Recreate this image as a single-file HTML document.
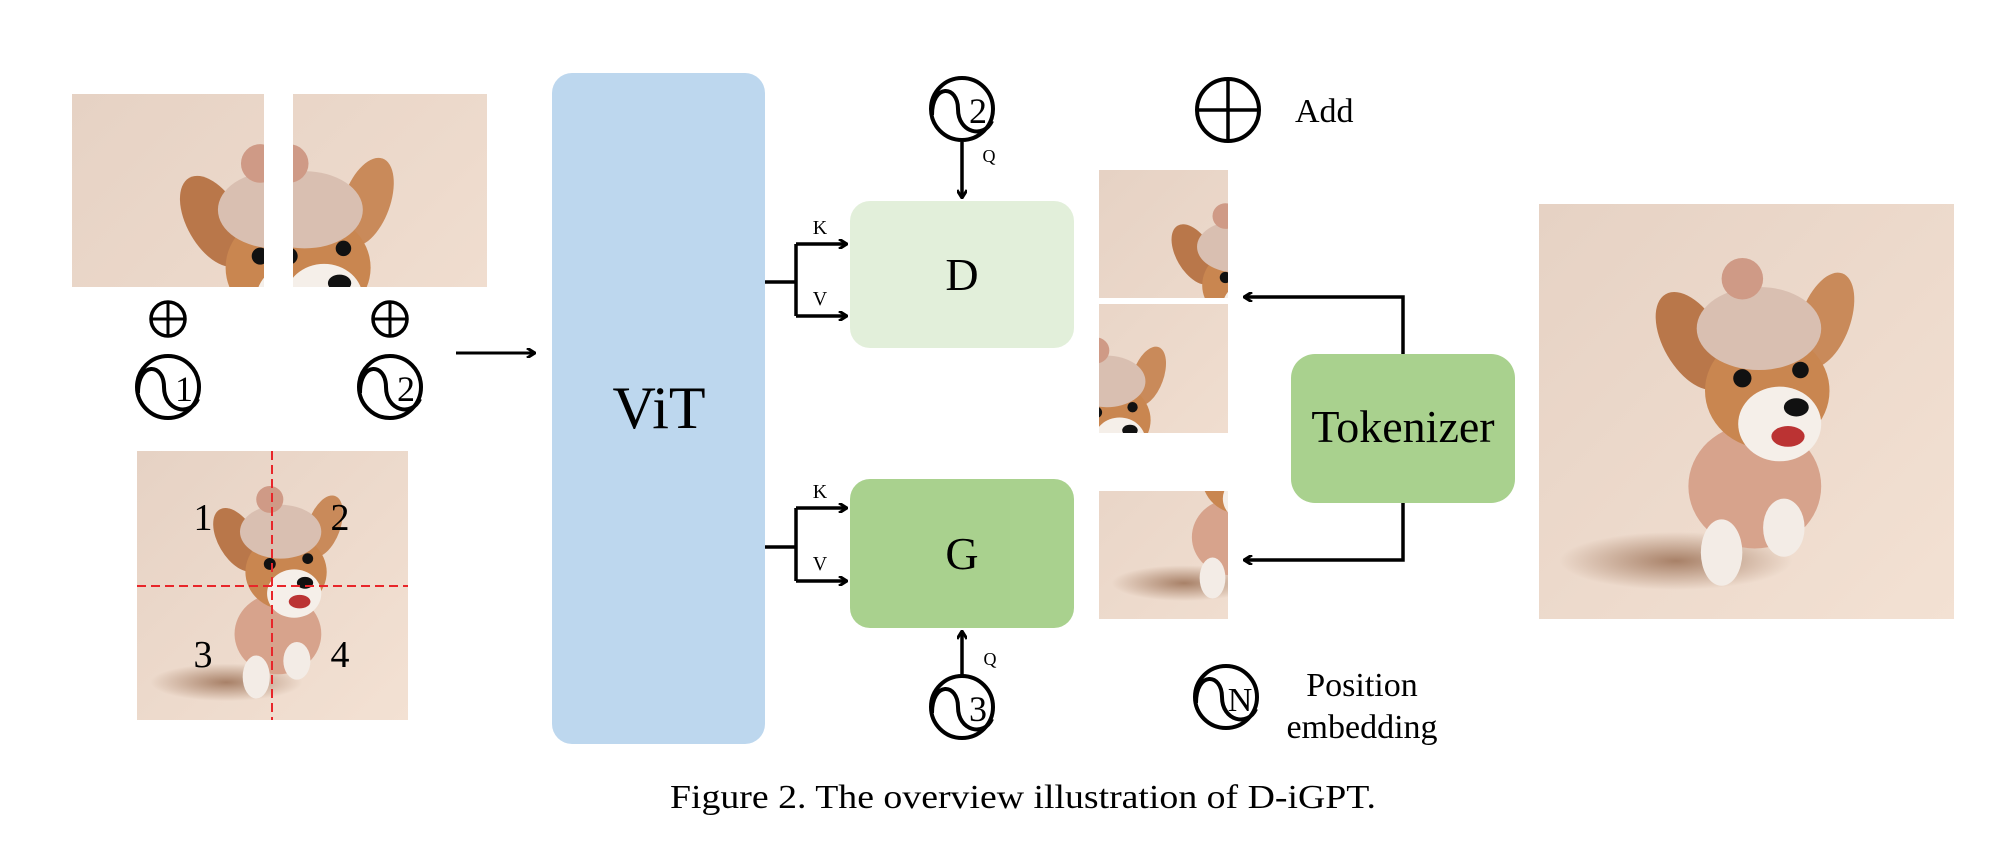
<!DOCTYPE html>
<html><head><meta charset="utf-8"><style>
html,body{margin:0;padding:0;background:#fff;}
svg{display:block;}
text{font-family:"Liberation Serif",serif;fill:#000;}
</style></head><body>
<svg width="2000" height="851" viewBox="0 0 2000 851" xmlns="http://www.w3.org/2000/svg">
<defs>
<linearGradient id="bg" x1="0" y1="0" x2="1" y2="1">
<stop offset="0" stop-color="#e6d2c4"/><stop offset="1" stop-color="#f3e1d3"/>
</linearGradient>
<radialGradient id="sh" cx="0.5" cy="0.5" r="0.5">
<stop offset="0" stop-color="#8a5a3c" stop-opacity="0.7"/><stop offset="1" stop-color="#8a5a3c" stop-opacity="0"/>
</radialGradient>
<g id="dog">
<rect x="0" y="0" width="100" height="100" fill="url(#bg)"/>
<ellipse cx="33" cy="86" rx="28" ry="7" fill="url(#sh)"/>
<ellipse cx="37" cy="33" rx="7" ry="13" fill="#b9774a" transform="rotate(-30 37 33)"/>
<ellipse cx="69" cy="28" rx="6" ry="12" fill="#c98a5a" transform="rotate(20 69 28)"/>
<ellipse cx="52" cy="68" rx="16" ry="15" fill="#d7a38c"/>
<ellipse cx="44" cy="84" rx="5" ry="8" fill="#f3ece6"/>
<ellipse cx="59" cy="78" rx="5" ry="7" fill="#f3ece6"/>
<ellipse cx="55" cy="45" rx="15" ry="14" fill="#c98650"/>
<ellipse cx="58" cy="53" rx="10" ry="9" fill="#f5efe9"/>
<ellipse cx="53" cy="30" rx="15" ry="10" fill="#d9bfb1"/>
<circle cx="49" cy="18" r="5" fill="#cf9a86"/>
<circle cx="49" cy="42" r="2.2" fill="#111"/>
<circle cx="63" cy="40" r="2" fill="#111"/>
<ellipse cx="62" cy="49" rx="3" ry="2.2" fill="#111"/>
<ellipse cx="60" cy="56" rx="4" ry="2.5" fill="#b33"/>
</g>
<g id="pe">
<circle cx="0" cy="0" r="31" fill="#fff" stroke="#000" stroke-width="4"/>
<path d="M-30,6 C-30,-26 -4,-24 -4,0 C-4,24 22,30 30,12" fill="none" stroke="#000" stroke-width="4"/>
</g>
<g id="add">
<circle cx="0" cy="0" r="17" fill="none" stroke="#000" stroke-width="3.5"/>
<line x1="-17" y1="0" x2="17" y2="0" stroke="#000" stroke-width="3"/>
<line x1="0" y1="-17" x2="0" y2="17" stroke="#000" stroke-width="3"/>
</g>
<marker id="ah" markerWidth="10" markerHeight="10" refX="8" refY="5" orient="auto" markerUnits="userSpaceOnUse">
<path d="M1,0 L9,5 L1,10" fill="none" stroke="#000" stroke-width="3"/>
</marker>
</defs>

<!-- top patches -->
<svg x="72" y="94" width="192" height="193" viewBox="0 0 50 50" preserveAspectRatio="none"><use href="#dog"/></svg>
<svg x="293" y="94" width="194" height="193" viewBox="50 0 50 50" preserveAspectRatio="none"><use href="#dog"/></svg>

<use href="#add" x="168" y="319"/>
<use href="#add" x="390" y="319"/>
<use href="#pe" x="168" y="387"/><text x="184" y="401" font-size="36" text-anchor="middle">1</text>
<use href="#pe" x="390" y="387"/><text x="406" y="401" font-size="36" text-anchor="middle">2</text>

<!-- grid image -->
<svg x="137" y="451" width="271" height="269" viewBox="0 0 100 100" preserveAspectRatio="none"><use href="#dog"/></svg>
<line x1="272" y1="451" x2="272" y2="720" stroke="#e8262a" stroke-width="2" stroke-dasharray="9,5"/>
<line x1="137" y1="586" x2="408" y2="586" stroke="#e8262a" stroke-width="2" stroke-dasharray="9,5"/>
<text x="203" y="530" font-size="38" text-anchor="middle">1</text>
<text x="340" y="530" font-size="38" text-anchor="middle">2</text>
<text x="203" y="667" font-size="38" text-anchor="middle">3</text>
<text x="340" y="667" font-size="38" text-anchor="middle">4</text>

<line x1="456" y1="353" x2="534" y2="353" stroke="#000" stroke-width="3" marker-end="url(#ah)"/>

<!-- ViT -->
<rect x="552" y="73" width="213" height="671" rx="20" fill="#bdd7ee"/>
<text x="659" y="428" font-size="60" text-anchor="middle">ViT</text>

<!-- D / G -->
<rect x="850" y="201" width="224" height="147" rx="20" fill="#e2efda"/>
<text x="962" y="290" font-size="46" text-anchor="middle">D</text>
<rect x="850" y="479" width="224" height="149" rx="20" fill="#a9d18e"/>
<text x="962" y="569" font-size="46" text-anchor="middle">G</text>

<!-- K/V connectors -->
<g stroke="#000" stroke-width="3.5" fill="none">
<path d="M765,282 H796 M796,244 V316"/>
<path d="M796,244 H846" marker-end="url(#ah)"/>
<path d="M796,316 H846" marker-end="url(#ah)"/>
<path d="M765,547 H796 M796,508 V581"/>
<path d="M796,508 H846" marker-end="url(#ah)"/>
<path d="M796,581 H846" marker-end="url(#ah)"/>
<path d="M962,142 V197" marker-end="url(#ah)"/>
<path d="M962,676 V632" marker-end="url(#ah)"/>
</g>
<text x="820" y="234" font-size="20" text-anchor="middle">K</text>
<text x="820" y="305" font-size="20" text-anchor="middle">V</text>
<text x="820" y="498" font-size="20" text-anchor="middle">K</text>
<text x="820" y="570" font-size="20" text-anchor="middle">V</text>
<text x="989" y="162" font-size="18" text-anchor="middle">Q</text>
<text x="990" y="665" font-size="18" text-anchor="middle">Q</text>
<use href="#pe" x="962" y="109"/><text x="978" y="123" font-size="36" text-anchor="middle">2</text>
<use href="#pe" x="962" y="707"/><text x="978" y="721" font-size="36" text-anchor="middle">3</text>

<!-- legend -->
<g transform="translate(1228,110)">
<circle r="31" fill="none" stroke="#000" stroke-width="4"/>
<line x1="-31" y1="0" x2="31" y2="0" stroke="#000" stroke-width="3.5"/>
<line x1="0" y1="-31" x2="0" y2="31" stroke="#000" stroke-width="3.5"/>
</g>
<text x="1295" y="122" font-size="34">Add</text>
<use href="#pe" x="1226" y="697"/><text x="1240" y="711" font-size="34" text-anchor="middle">N</text>
<text x="1362" y="696" font-size="34" text-anchor="middle">Position</text>
<text x="1362" y="738" font-size="34" text-anchor="middle">embedding</text>

<!-- small patches -->
<svg x="1099" y="170" width="129" height="128" viewBox="0 0 50 50" preserveAspectRatio="none"><use href="#dog"/></svg>
<svg x="1099" y="304" width="129" height="129" viewBox="50 0 50 50" preserveAspectRatio="none"><use href="#dog"/></svg>
<svg x="1099" y="491" width="129" height="128" viewBox="0 50 50 50" preserveAspectRatio="none"><use href="#dog"/></svg>

<!-- tokenizer -->
<rect x="1291" y="354" width="224" height="149" rx="24" fill="#a9d18e"/>
<text x="1403" y="442" font-size="46" text-anchor="middle">Tokenizer</text>
<g stroke="#000" stroke-width="3.5" fill="none">
<path d="M1403,354 V297 H1245" marker-end="url(#ah)"/>
<path d="M1403,503 V560 H1245" marker-end="url(#ah)"/>
</g>

<!-- big image -->
<svg x="1539" y="204" width="415" height="415" viewBox="0 0 100 100" preserveAspectRatio="none"><use href="#dog"/></svg>

<text x="670" y="808" font-size="34" textLength="706" lengthAdjust="spacingAndGlyphs">Figure 2. The overview illustration of D-iGPT.</text>
</svg>
</body></html>
